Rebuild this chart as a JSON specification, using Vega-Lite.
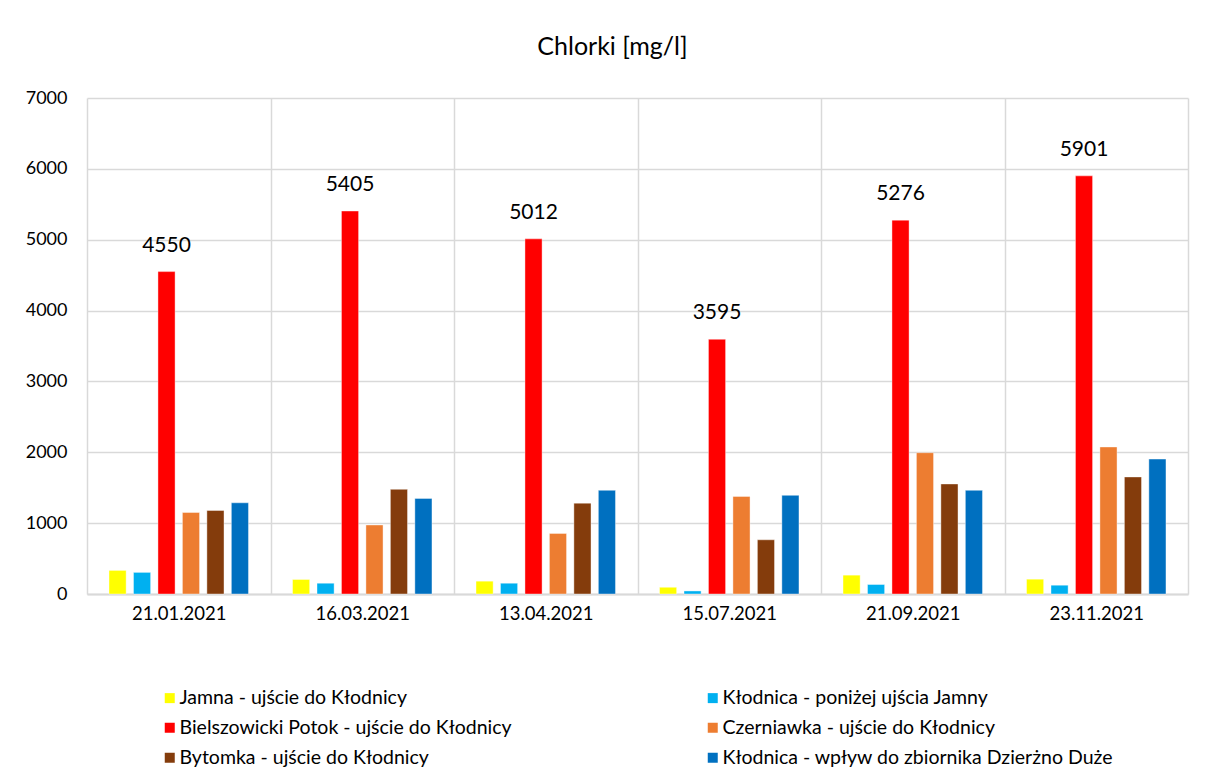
{
  "$schema": "https://vega.github.io/schema/vega-lite/v6.json",
  "width": 1101,
  "height": 496,
  "autosize": {"type": "none"},
  "padding": {"left": 87, "top": 98, "right": 18, "bottom": 187},
  "background": "white",
  "config": {
    "view": {"stroke": null},
    "font": "Lato",
    "axis": {"labelFont": "Lato", "labelColor": "#000000", "gridColor": "#d9d9d9", "gridWidth": 1.5}
  },
  "title": {
    "text": "Chlorki [mg/l]",
    "font": "Lato",
    "fontSize": 25,
    "fontWeight": "normal",
    "color": "#000000",
    "anchor": "middle",
    "frame": "group",
    "dx": -25,
    "offset": 29
  },
  "data": {
    "values": [
      {"date": "21.01.2021", "site": "Jamna - ujście do Kłodnicy", "value": 333},
      {"date": "21.01.2021", "site": "Kłodnica - poniżej ujścia Jamny", "value": 305},
      {"date": "21.01.2021", "site": "Bielszowicki Potok - ujście do Kłodnicy", "value": 4550},
      {"date": "21.01.2021", "site": "Czerniawka - ujście do Kłodnicy", "value": 1150},
      {"date": "21.01.2021", "site": "Bytomka - ujście do Kłodnicy", "value": 1178},
      {"date": "21.01.2021", "site": "Kłodnica - wpływ do zbiornika Dzierżno Duże", "value": 1287},
      {"date": "16.03.2021", "site": "Jamna - ujście do Kłodnicy", "value": 205},
      {"date": "16.03.2021", "site": "Kłodnica - poniżej ujścia Jamny", "value": 152},
      {"date": "16.03.2021", "site": "Bielszowicki Potok - ujście do Kłodnicy", "value": 5405},
      {"date": "16.03.2021", "site": "Czerniawka - ujście do Kłodnicy", "value": 974},
      {"date": "16.03.2021", "site": "Bytomka - ujście do Kłodnicy", "value": 1477},
      {"date": "16.03.2021", "site": "Kłodnica - wpływ do zbiornika Dzierżno Duże", "value": 1349},
      {"date": "13.04.2021", "site": "Jamna - ujście do Kłodnicy", "value": 181},
      {"date": "13.04.2021", "site": "Kłodnica - poniżej ujścia Jamny", "value": 152},
      {"date": "13.04.2021", "site": "Bielszowicki Potok - ujście do Kłodnicy", "value": 5012},
      {"date": "13.04.2021", "site": "Czerniawka - ujście do Kłodnicy", "value": 855},
      {"date": "13.04.2021", "site": "Bytomka - ujście do Kłodnicy", "value": 1282},
      {"date": "13.04.2021", "site": "Kłodnica - wpływ do zbiornika Dzierżno Duże", "value": 1463},
      {"date": "15.07.2021", "site": "Jamna - ujście do Kłodnicy", "value": 95},
      {"date": "15.07.2021", "site": "Kłodnica - poniżej ujścia Jamny", "value": 43},
      {"date": "15.07.2021", "site": "Bielszowicki Potok - ujście do Kłodnicy", "value": 3595},
      {"date": "15.07.2021", "site": "Czerniawka - ujście do Kłodnicy", "value": 1377},
      {"date": "15.07.2021", "site": "Bytomka - ujście do Kłodnicy", "value": 765},
      {"date": "15.07.2021", "site": "Kłodnica - wpływ do zbiornika Dzierżno Duże", "value": 1392},
      {"date": "21.09.2021", "site": "Jamna - ujście do Kłodnicy", "value": 266},
      {"date": "21.09.2021", "site": "Kłodnica - poniżej ujścia Jamny", "value": 134},
      {"date": "21.09.2021", "site": "Bielszowicki Potok - ujście do Kłodnicy", "value": 5276},
      {"date": "21.09.2021", "site": "Czerniawka - ujście do Kłodnicy", "value": 1994},
      {"date": "21.09.2021", "site": "Bytomka - ujście do Kłodnicy", "value": 1553},
      {"date": "21.09.2021", "site": "Kłodnica - wpływ do zbiornika Dzierżno Duże", "value": 1463},
      {"date": "23.11.2021", "site": "Jamna - ujście do Kłodnicy", "value": 209},
      {"date": "23.11.2021", "site": "Kłodnica - poniżej ujścia Jamny", "value": 124},
      {"date": "23.11.2021", "site": "Bielszowicki Potok - ujście do Kłodnicy", "value": 5901},
      {"date": "23.11.2021", "site": "Czerniawka - ujście do Kłodnicy", "value": 2075},
      {"date": "23.11.2021", "site": "Bytomka - ujście do Kłodnicy", "value": 1652},
      {"date": "23.11.2021", "site": "Kłodnica - wpływ do zbiornika Dzierżno Duże", "value": 1904}
    ]
  },
  "encoding": {
    "x": {
      "field": "date",
      "type": "nominal",
      "sort": ["21.01.2021", "16.03.2021", "13.04.2021", "15.07.2021", "21.09.2021", "23.11.2021"],
      "scale": {"paddingInner": 0, "paddingOuter": 0},
      "axis": {
        "title": null,
        "labelAngle": 0,
        "labelFontSize": 18.5,
        "labelPadding": 10,
        "ticks": false,
        "tickBand": "extent",
        "grid": true,
        "domain": true,
        "domainColor": "#d9d9d9",
        "domainWidth": 2
      }
    },
    "xOffset": {
      "field": "site",
      "type": "nominal",
      "scale": {
        "domain": ["Jamna - ujście do Kłodnicy", "Kłodnica - poniżej ujścia Jamny", "Bielszowicki Potok - ujście do Kłodnicy", "Czerniawka - ujście do Kłodnicy", "Bytomka - ujście do Kłodnicy", "Kłodnica - wpływ do zbiornika Dzierżno Duże"],
        "paddingInner": 0.3,
        "paddingOuter": 0.9
      }
    },
    "y": {
      "field": "value",
      "type": "quantitative",
      "scale": {"domain": [0, 7000], "nice": false},
      "axis": {
        "title": null,
        "values": [0, 1000, 2000, 3000, 4000, 5000, 6000, 7000],
        "format": "d",
        "labelFontSize": 18,
        "labelPadding": 20,
        "ticks": false,
        "domain": false,
        "grid": true
      }
    }
  },
  "layer": [
    {
      "mark": {"type": "bar", "stroke": "white", "strokeOpacity": 0.5, "strokeWidth": 0.8},
      "encoding": {
        "color": {
          "field": "site",
          "type": "nominal",
          "scale": {
            "domain": ["Jamna - ujście do Kłodnicy", "Kłodnica - poniżej ujścia Jamny", "Bielszowicki Potok - ujście do Kłodnicy", "Czerniawka - ujście do Kłodnicy", "Bytomka - ujście do Kłodnicy", "Kłodnica - wpływ do zbiornika Dzierżno Duże"],
            "range": ["#FFFF00", "#00B0F0", "#FF0000", "#ED7D31", "#843C0C", "#0070C0"]
          },
          "legend": {
            "title": null,
            "orient": "none",
            "legendX": 73,
            "legendY": 590,
            "direction": "horizontal",
            "columns": 2,
            "columnPadding": 191,
            "rowPadding": 9,
            "symbolType": "square",
            "symbolSize": 100,
            "symbolStrokeWidth": 0,
            "labelFont": "Lato",
            "labelFontSize": 19.5,
            "labelColor": "#000000",
            "labelOffset": 0,
            "labelLimit": 500
          }
        }
      }
    },
    {
      "transform": [{"filter": "datum.site === 'Bielszowicki Potok - ujście do Kłodnicy'"}],
      "mark": {"type": "text", "font": "Lato", "fontSize": 21, "color": "#000000", "baseline": "middle", "dy": -26},
      "encoding": {
        "text": {"field": "value", "type": "quantitative", "format": "d"}
      }
    }
  ]
}
